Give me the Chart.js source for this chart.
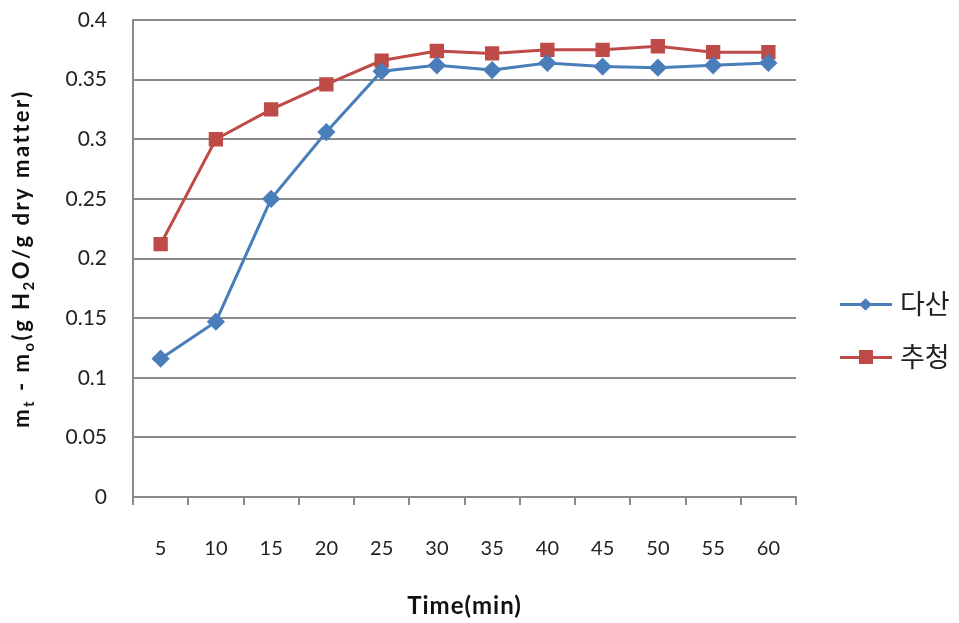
<!DOCTYPE html>
<html lang="ko">
<head>
<meta charset="UTF-8">
<title>Moisture uptake</title>
<script src="https://cdn.jsdelivr.net/npm/chart.js"></script>
<style>
  body { margin: 0; background: #fff; }
  #wrap { position: relative; width: 959px; height: 623px; }
  #legend { position: absolute; left: 840px; top: 0; font-family: "Noto Sans CJK KR", sans-serif; font-size: 27px; color: #222; }
  .item { position: absolute; left: 0; width: 120px; height: 30px; }
  .line { position: absolute; left: 0; top: 14px; width: 52px; height: 3px; }
  .mark { position: absolute; }
  .label { position: absolute; left: 60px; top: -5px; line-height: 38px; white-space: nowrap; }
</style>
</head>
<body>
<div id="wrap">
  <canvas id="chart" width="959" height="623"></canvas>
  <div id="legend"></div>
</div>
<script>
const times = ['5', '10', '15', '20', '25', '30', '35', '40', '45', '50', '55', '60'];
const dasan = [0.116, 0.147, 0.250, 0.306, 0.357, 0.362, 0.358, 0.364, 0.361, 0.360, 0.362, 0.364];
const chucheong = [0.212, 0.300, 0.325, 0.346, 0.366, 0.374, 0.372, 0.375, 0.375, 0.378, 0.373, 0.373];
const seriesNames = ['다산', '추청'];
const xTitle = 'Time(min)';
// y title pieces: [text, isSubscript]
const yTitle = [['m', 0], ['t', 1], [' - m', 0], ['o', 1], ['(g H', 0], ['2', 1], ['O/g dry matter)', 0]];
const blue = '#4A7EBB';
const red = '#BE4B48';
const gridColor = '#8a8a8a';

const tickFont = { family: 'Lato', size: 20 };

// draws the axis titles (the y one has real subscripts)
const axisTitles = {
  id: 'axisTitles',
  afterDraw(chart) {
    const c = chart.ctx;
    const area = chart.chartArea;
    c.save();
    c.fillStyle = '#111';
    c.textBaseline = 'alphabetic';
    c.textAlign = 'left';
    if ('letterSpacing' in c) c.letterSpacing = '2.5px';
    const big = 'bold 22px Lato';
    const small = 'bold 15px Lato';
    let total = 0;
    yTitle.forEach(function(p) {
      c.font = p[1] ? small : big;
      total += c.measureText(p[0]).width;
    });
    c.translate(29, (area.top + area.bottom) / 2);
    c.rotate(-Math.PI / 2);
    let x = -total / 2;
    yTitle.forEach(function(p) {
      c.font = p[1] ? small : big;
      c.fillText(p[0], x, p[1] ? 5 : 0);
      x += c.measureText(p[0]).width;
    });
    c.restore();

    c.save();
    c.fillStyle = '#111';
    if ('letterSpacing' in c) c.letterSpacing = '1px';
    c.font = 'bold 24px Lato';
    c.textAlign = 'center';
    c.textBaseline = 'middle';
    c.fillText(xTitle, (area.left + area.right) / 2, 606);
    c.restore();
  }
};

const ctx = document.getElementById('chart').getContext('2d');
const chart = new Chart(ctx, {
  type: 'line',
  data: {
    labels: times,
    datasets: [{
      label: seriesNames[0],
      data: dasan,
      borderColor: blue,
      backgroundColor: blue,
      borderWidth: 3,
      pointStyle: 'rectRot',
      pointRadius: 7,
      pointHoverRadius: 7,
      tension: 0
    }, {
      label: seriesNames[1],
      data: chucheong,
      borderColor: red,
      backgroundColor: red,
      borderWidth: 3,
      pointStyle: 'rect',
      pointRadius: 8,
      pointHoverRadius: 8,
      tension: 0
    }]
  },
  options: {
    responsive: false,
    animation: false,
    layout: { padding: { left: 0, right: 163, top: 20, bottom: 0 } },
    plugins: {
      legend: { display: false },
      tooltip: { enabled: false }
    },
    scales: {
      x: {
        offset: true,
        grid: { offset: true, drawOnChartArea: false, drawTicks: true, tickLength: 8, color: gridColor, lineWidth: 2 },
        border: { display: true, color: gridColor, width: 2 },
        ticks: { font: tickFont, color: '#222', padding: 32, maxRotation: 0 },
        afterFit: function(scale) { scale.height = 126; }
      },
      y: {
        min: 0,
        max: 0.4,
        ticks: {
          stepSize: 0.05,
          font: { family: 'Lato', size: 21 },
          color: '#222',
          padding: 26,
          callback: function(v) { return String(Math.round(v * 100) / 100); }
        },
        grid: { color: gridColor, lineWidth: 2, drawTicks: false },
        border: { display: true, color: gridColor, width: 2 },
        afterFit: function(scale) {
          scale.width = 133;
          scale.paddingTop = 0;
          scale.paddingBottom = 0;
        }
      }
    }
  },
  plugins: [axisTitles]
});

// Excel-like legend: line with marker in the middle
const legend = document.getElementById('legend');
const legendTops = [289, 342];
chart.data.datasets.forEach(function(ds, i) {
  const item = document.createElement('div');
  item.className = 'item';
  item.style.top = legendTops[i] + 'px';
  const line = document.createElement('div');
  line.className = 'line';
  line.style.background = ds.borderColor;
  const mark = document.createElement('div');
  mark.className = 'mark';
  mark.style.background = ds.borderColor;
  if (ds.pointStyle === 'rectRot') {
    mark.style.width = '9px'; mark.style.height = '9px';
    mark.style.left = '21px'; mark.style.top = '11px';
    mark.style.transform = 'rotate(45deg)';
  } else {
    mark.style.width = '14px'; mark.style.height = '14px';
    mark.style.left = '19px'; mark.style.top = '8px';
  }
  const label = document.createElement('div');
  label.className = 'label';
  label.textContent = ds.label;
  item.appendChild(line);
  item.appendChild(mark);
  item.appendChild(label);
  legend.appendChild(item);
});
</script>
</body>
</html>
